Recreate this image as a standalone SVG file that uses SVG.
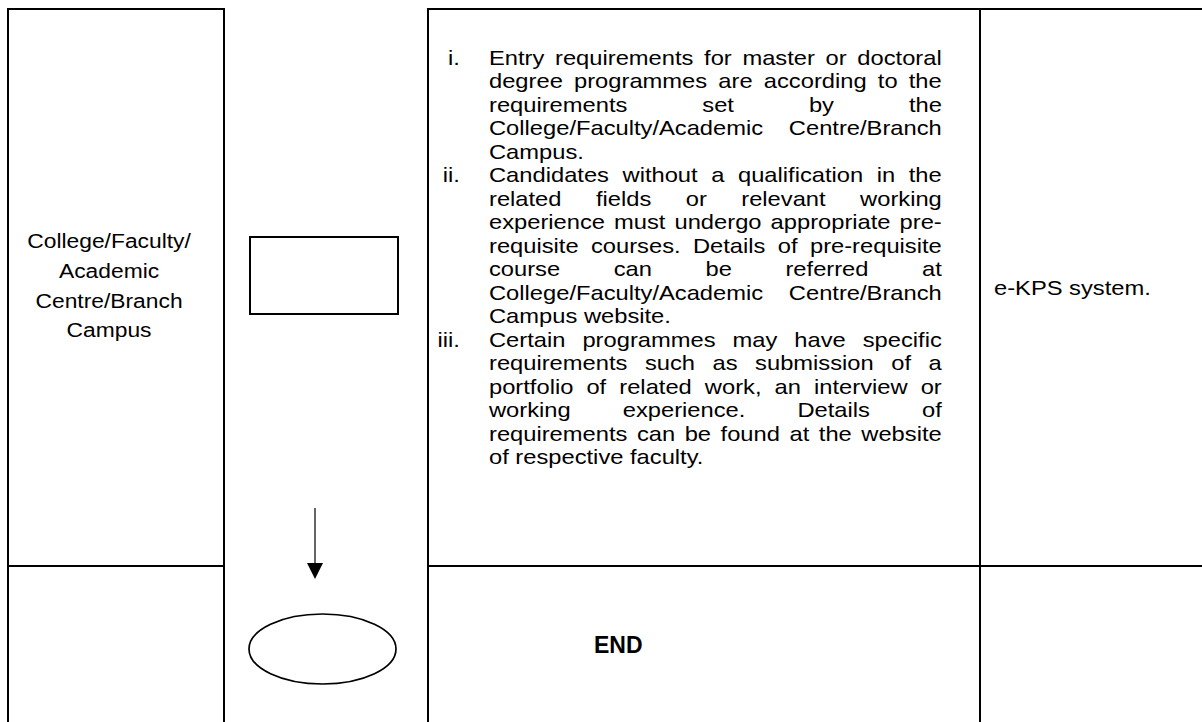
<svg xmlns="http://www.w3.org/2000/svg" width="1202" height="722" viewBox="0 0 1202 722">
<defs>
<style>
.grid{stroke:#000;stroke-width:2;fill:none}
.t{font-family:"Liberation Sans",Arial,sans-serif;font-size:21px;fill:#000}
.l{font-size:20.2px}
.b{font-family:"Liberation Sans",Arial,sans-serif;font-size:23px;font-weight:bold;fill:#000}
.shape{stroke:#000;fill:#fff}
</style>
</defs>
<rect width="1202" height="722" fill="#fff"/>
<g id="table" class="grid">
<line x1="7" y1="9" x2="225" y2="9"/>
<line x1="427" y1="9" x2="1202" y2="9"/>
<line x1="8" y1="8" x2="8" y2="722"/>
<line x1="224" y1="8" x2="224" y2="722"/>
<line x1="428" y1="8" x2="428" y2="722"/>
<line x1="980" y1="8" x2="980" y2="722"/>
<line x1="8" y1="566" x2="224" y2="566"/>
<line x1="428" y1="566" x2="1202" y2="566"/>
</g>
<g id="process">
<rect class="shape" x="250" y="237" width="148" height="77" stroke-width="2"/>
</g>
<g id="end-terminator">
<ellipse class="shape" cx="322.5" cy="649" rx="73.5" ry="35" stroke-width="1.7"/>
</g>
<g id="connectors">
<line x1="315" y1="508" x2="315" y2="563" stroke="#000" stroke-width="1.2"/>
<polygon points="307,563 323,563 315,579" fill="#000"/>
</g>
<g id="texts" transform="scale(1.13 1)" class="t">
<g id="responsible" class="l">
<text x="96.5" y="248.5" text-anchor="middle">College/Faculty/</text>
<text x="96.5" y="278.5" text-anchor="middle">Academic</text>
<text x="96.5" y="308" text-anchor="middle">Centre/Branch</text>
<text x="96.5" y="337" text-anchor="middle">Campus</text>
</g>
<g id="description">
<text x="407" y="65" text-anchor="end">i.</text>
<text x="407" y="182.5" text-anchor="end">ii.</text>
<text x="407" y="347" text-anchor="end">iii.</text>
<text x="432.74" y="65" word-spacing="3.62">Entry requirements for master or doctoral</text>
<text x="432.74" y="88.5" word-spacing="4.08">degree programmes are according to the</text>
<text x="432.74" y="112" word-spacing="60.49">requirements set by the</text>
<text x="432.74" y="135.5" word-spacing="16.92">College/Faculty/Academic Centre/Branch</text>
<text x="432.74" y="159">Campus.</text>
<text x="432.74" y="182.5" word-spacing="6.17">Candidates without a qualification in the</text>
<text x="432.74" y="206" word-spacing="24.65">related fields or relevant working</text>
<text x="432.74" y="229.5" word-spacing="2.18">experience must undergo appropriate pre-</text>
<text x="432.74" y="253" word-spacing="5.11">requisite courses. Details of pre-requisite</text>
<text x="432.74" y="276.5" word-spacing="41.57">course can be referred at</text>
<text x="432.74" y="300" word-spacing="16.92">College/Faculty/Academic Centre/Branch</text>
<text x="432.74" y="323.5">Campus website.</text>
<text x="432.74" y="347" word-spacing="9.20">Certain programmes may have specific</text>
<text x="432.74" y="370.5" word-spacing="9.68">requirements such as submission of a</text>
<text x="432.74" y="394" word-spacing="5.74">portfolio of related work, an interview or</text>
<text x="432.74" y="417.5" word-spacing="40.26">working experience. Details of</text>
<text x="432.74" y="441" word-spacing="2.61">requirements can be found at the website</text>
<text x="432.74" y="464.5">of respective faculty.</text>
</g>
<g id="record">
<text x="879.65" y="295">e-KPS system.</text>
</g>
</g>
<g id="end-label">
<text class="b" x="594" y="653">END</text>
</g>
</svg>
